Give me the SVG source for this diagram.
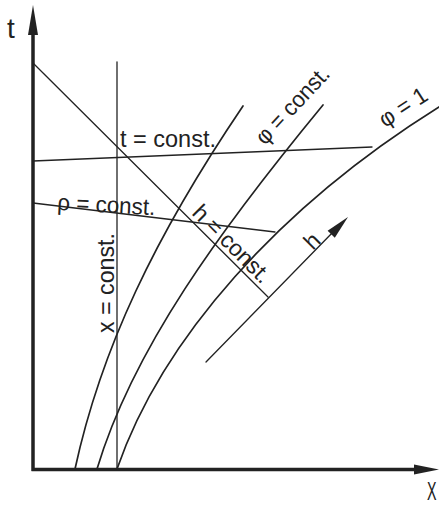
<svg xmlns="http://www.w3.org/2000/svg" width="439" height="505" viewBox="0 0 439 505">
<style>
.thin{fill:none;stroke:#222;stroke-width:1.3;stroke-linecap:round}
.curve{fill:none;stroke:#222;stroke-width:1.7;stroke-linecap:round}
.axis{fill:none;stroke:#222;stroke-width:3.5}
.head{fill:#222;stroke:none}
.lbl{font-family:"Liberation Sans",Arial,sans-serif;font-size:23px;fill:#222}
.big{font-family:"Liberation Sans",Arial,sans-serif;font-size:28px;fill:#222}
</style>
<rect width="439" height="505" fill="#fff"/>
<g id="axes">
<path class="axis" d="M33,471 V30 M31.5,469.5 H418"/>
<polygon class="head" points="33,5 28,35 38,35"/>
<polygon class="head" points="439,469.5 414,464.5 414,474.5"/>
</g>
<g id="lines">
<path class="thin" d="M117,62 V469"/>
<path class="thin" d="M33,63 L268,297"/>
<path class="thin" d="M33,161 L372,147"/>
<path class="thin" d="M33,203 L275,232"/>
<path class="thin" d="M206,362 L334,231"/>
<polygon class="head" points="348,217 334.8,237.7 327.6,230.7"/>
</g>
<g id="curves">
<path class="curve" d="M75,469 C101,349 155,236 243,106"/>
<path class="curve" d="M97,469 C133,349 220,230 323,105"/>
<path class="curve" d="M117,469 C162,339 279,207 439,107"/>
</g>
<g id="labels">
<text class="big" x="7" y="38">t</text>
<text class="big" style="font-size:26px" transform="translate(427,500) scale(0.55,1)">X</text>
<text class="lbl" x="120" y="147" textLength="96" lengthAdjust="spacingAndGlyphs">t = const.</text>
<text class="lbl" transform="translate(57,210) rotate(3)" textLength="98" lengthAdjust="spacingAndGlyphs">ρ = const.</text>
<text class="lbl" transform="translate(265,146) rotate(-47)" textLength="97" lengthAdjust="spacingAndGlyphs">φ = const.</text>
<text class="lbl" transform="translate(385,128) rotate(-33)" textLength="53" lengthAdjust="spacingAndGlyphs">φ = 1</text>
<text class="lbl" transform="translate(191,214) rotate(45)" textLength="100" lengthAdjust="spacingAndGlyphs">h = const.</text>
<text class="lbl" transform="translate(114,333) rotate(-90)" textLength="100" lengthAdjust="spacingAndGlyphs">x = const.</text>
<text class="lbl" transform="translate(313,251) rotate(-45)">h</text>
</g>
</svg>
